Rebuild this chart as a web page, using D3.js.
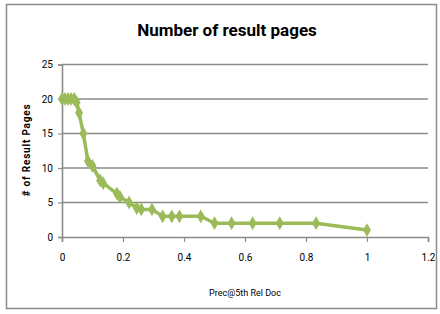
<!DOCTYPE html>
<html>
<head>
<meta charset="utf-8">
<script src="https://cdn.jsdelivr.net/npm/d3@7"></script>
<style>
  body { margin: 0; background: #fff; }
  text { font-family: "Roboto", sans-serif; fill: #000; }
</style>
</head>
<body>
<div class="chart"></div>
<script>
// chart size
const w = 440
const h = 314

// data
const precValues = [0, 0.01, 0.02, 0.03, 0.04, 0.048, 0.056, 0.07, 0.085, 0.1, 0.125, 0.135, 0.18, 0.19, 0.22, 0.245, 0.26, 0.295, 0.33, 0.36, 0.385, 0.455, 0.5, 0.556, 0.625, 0.714, 0.833, 1]
const pageCounts = [20, 20, 20, 20, 20, 19.5, 18, 15, 11, 10.3, 8.2, 7.8, 6.3, 5.8, 5, 4.2, 4, 4, 3, 3, 3, 3, 2, 2, 2, 2, 2, 1]
const xTicks = [0, 0.2, 0.4, 0.6, 0.8, 1, 1.2]
const yTicks = [0, 5, 10, 15, 20, 25]

const data = precValues.map((v, i) => ({x: v, y: pageCounts[i]}))

const svg = d3.select(".chart")
  .append("svg")
    .attr("width", w)
    .attr("height", h)

// outer frame
svg.append("rect")
  .attr("x", 6.5).attr("y", 4.5)
  .attr("width", 430).attr("height", 304)
  .attr("fill", "white")
  .attr("stroke", "#8c8c8c")
  .attr("stroke-width", 1.5)

const x = d3.scaleLinear().domain([0, 1.2]).range([62, 428])
const y = d3.scaleLinear().domain([0, 25]).range([237, 64.5])

// gridlines
svg.append("g")
  .selectAll("line")
  .data(yTicks.filter(t => t > 0))
  .join("line")
    .attr("x1", x(0)).attr("x2", x(1.2))
    .attr("y1", d => y(d)).attr("y2", d => y(d))
    .attr("stroke", "#8a8a8a")
    .attr("stroke-width", 1.6)

// axes
const xAxis = svg.append("g")
  .attr("transform", `translate(0,${y(0)})`)
  .call(d3.axisBottom(x).tickValues(xTicks).tickSize(5).tickPadding(12).tickFormat(d => d))
const yAxis = svg.append("g")
  .attr("transform", `translate(${x(0)},0)`)
  .call(d3.axisLeft(y).tickValues(yTicks).tickSize(4).tickPadding(5))

xAxis.select(".domain").attr("stroke", "#8a8a8a").attr("stroke-width", 1.6)
yAxis.select(".domain").attr("stroke", "#8a8a8a").attr("stroke-width", 1.6)
svg.selectAll(".tick line").attr("stroke", "#8a8a8a").attr("stroke-width", 1.2)
svg.selectAll(".tick text").attr("font-size", 10).attr("font-family", "Roboto, sans-serif")

// line + markers
svg.append("path")
  .datum(data)
  .attr("fill", "none")
  .attr("stroke", "#9bbb59")
  .attr("stroke-width", 3.5)
  .attr("stroke-linejoin", "round")
  .attr("d", d3.line().x(d => x(d.x)).y(d => y(d.y)))

svg.append("g")
  .selectAll("path")
  .data(data)
  .join("path")
    .attr("transform", d => `translate(${x(d.x)},${y(d.y)})`)
    .attr("d", d3.symbol().type(d3.symbolDiamond).size(55))
    .attr("fill", "#9bbb59")

// title and axis labels
svg.append("text")
  .attr("x", 227).attr("y", 36)
  .attr("text-anchor", "middle")
  .attr("font-size", 17)
  .attr("font-weight", "bold")
  .text("Number of result pages")

svg.append("text")
  .attr("transform", "translate(30,150) rotate(-90)")
  .attr("text-anchor", "middle")
  .attr("font-size", 10)
  .attr("font-weight", "bold")
  .attr("letter-spacing", 0.8)
  .text("# of Result Pages")

svg.append("text")
  .attr("x", 245).attr("y", 296)
  .attr("text-anchor", "middle")
  .attr("font-size", 9)
  .text("Prec@5th Rel Doc")
</script>
</body>
</html>
